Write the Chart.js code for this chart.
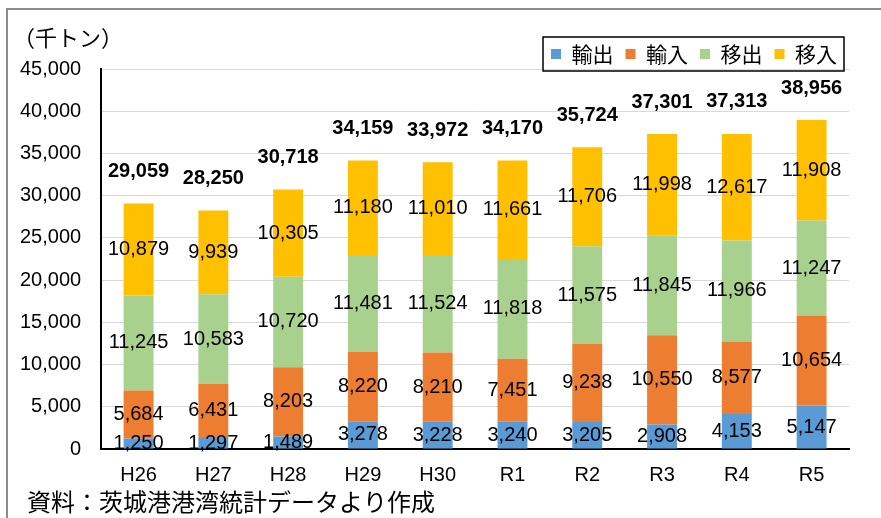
<!DOCTYPE html>
<html>
<head>
<meta charset="utf-8">
<script src="https://cdn.jsdelivr.net/npm/chart.js@4/dist/chart.umd.min.js"></script>
<style>
    html, body { margin: 0; padding: 0; background: #fff; }
    canvas { display: block; }
</style>
</head>
<body>
<canvas id="chart" width="881" height="518"></canvas>
<script>
// 茨城港 取扱貨物量（千トン）
const years = ['H26', 'H27', 'H28', 'H29', 'H30', 'R1', 'R2', 'R3', 'R4', 'R5']
const exportsAbroad = [1250, 1297, 1489, 3278, 3228, 3240, 3205, 2908, 4153, 5147]
const importsAbroad = [5684, 6431, 8203, 8220, 8210, 7451, 9238, 10550, 8577, 10654]
const shippedOut = [11245, 10583, 10720, 11481, 11524, 11818, 11575, 11845, 11966, 11247]
const shippedIn = [10879, 9939, 10305, 11180, 11010, 11661, 11706, 11998, 12617, 11908]
const totals = [29059, 28250, 30718, 34159, 33972, 34170, 35724, 37301, 37313, 38956]
const seriesNames = ['輸出', '輸入', '移出', '移入']
const yMax = 45000
const yStep = 5000

const unitLabel = '（千トン）'
const sourceNote = '資料：茨城港港湾統計データより作成'

const numFont = '"Liberation Sans", Arial, "Noto Sans CJK JP", sans-serif'
const jpFont = '"Noto Sans CJK JP", sans-serif'
const fmt = (v) => v.toLocaleString('en-US')

const decorations = {
    id: 'decorations',
    beforeDraw(chart) {
        const ctx = chart.ctx
        ctx.save()
        ctx.fillStyle = '#fff'
        ctx.fillRect(0, 0, chart.width, chart.height)
        ctx.strokeStyle = '#8c8c8c'
        ctx.lineWidth = 2
        ctx.beginPath()
        ctx.moveTo(7, chart.height)
        ctx.lineTo(7, 9)
        ctx.lineTo(chart.width, 9)
        ctx.stroke()
        ctx.restore()
    },
    afterDatasetsDraw(chart) {
        const ctx = chart.ctx
        ctx.save()
        ctx.fillStyle = '#000'
        ctx.textAlign = 'center'
        ctx.textBaseline = 'middle'
        ctx.font = '20px ' + numFont
        chart.data.datasets.forEach((ds, i) => {
            chart.getDatasetMeta(i).data.forEach((bar, j) => {
                ctx.fillText(fmt(ds.data[j]), bar.x, (bar.y + bar.base) / 2)
            })
        })
        const topBars = chart.getDatasetMeta(chart.data.datasets.length - 1).data
        ctx.font = 'bold 20px ' + numFont
        totals.forEach((t, j) => {
            ctx.fillText(fmt(t), topBars[j].x, topBars[j].y - 32)
        })
        ctx.restore()
    },
    afterDraw(chart) {
        const ctx = chart.ctx
        ctx.save()
        ctx.fillStyle = '#000'
        ctx.textBaseline = 'middle'
        ctx.textAlign = 'left'
        ctx.font = '22px ' + jpFont
        ctx.fillText(unitLabel, 13, 38)
        ctx.font = '24px ' + jpFont
        ctx.fillText(sourceNote, 27, 502)

        // legend frame
        const boxes = chart.legend.legendHitBoxes
        const first = boxes[0]
        const last = boxes[boxes.length - 1]
        ctx.strokeStyle = '#000'
        ctx.lineWidth = 1.5
        ctx.strokeRect(first.left - 8, first.top - 6.5,
            last.left + last.width + 7 - (first.left - 8), first.height + 13)
        ctx.restore()
    },
}

new Chart(document.getElementById('chart'), {
    type: 'bar',
    data: {
        labels: years,
        datasets: [
            { label: seriesNames[0], data: exportsAbroad, backgroundColor: '#5B9BD5' },
            { label: seriesNames[1], data: importsAbroad, backgroundColor: '#ED7D31' },
            { label: seriesNames[2], data: shippedOut, backgroundColor: '#A9D18E' },
            { label: seriesNames[3], data: shippedIn, backgroundColor: '#FFC000' },
        ],
    },
    options: {
        responsive: false,
        animation: false,
        events: [],
        locale: 'en-US',
        borderWidth: 0,
        barPercentage: 0.4,
        categoryPercentage: 1,
        layout: {
            padding: { left: 0, right: 32, top: 31.5, bottom: 25 },
        },
        scales: {
            x: {
                stacked: true,
                grid: { display: false },
                border: { color: '#000', width: 2 },
                ticks: {
                    color: '#000',
                    padding: 6,
                    font: { family: numFont, size: 20 },
                },
            },
            y: {
                stacked: true,
                min: 0,
                max: yMax,
                grid: { color: '#d9d9d9', lineWidth: 1, drawTicks: false },
                border: { color: '#000', width: 2 },
                ticks: {
                    stepSize: yStep,
                    color: '#000',
                    padding: 20,
                    font: { family: numFont, size: 20 },
                },
            },
        },
        plugins: {
            tooltip: { enabled: false },
            legend: {
                position: 'top',
                align: 'end',
                maxHeight: 37.5,
                labels: {
                    boxWidth: 10,
                    boxHeight: 10,
                    padding: 12,
                    color: '#000',
                    font: { family: jpFont, size: 21 },
                },
            },
        },
    },
    plugins: [decorations],
})
</script>
</body>
</html>
